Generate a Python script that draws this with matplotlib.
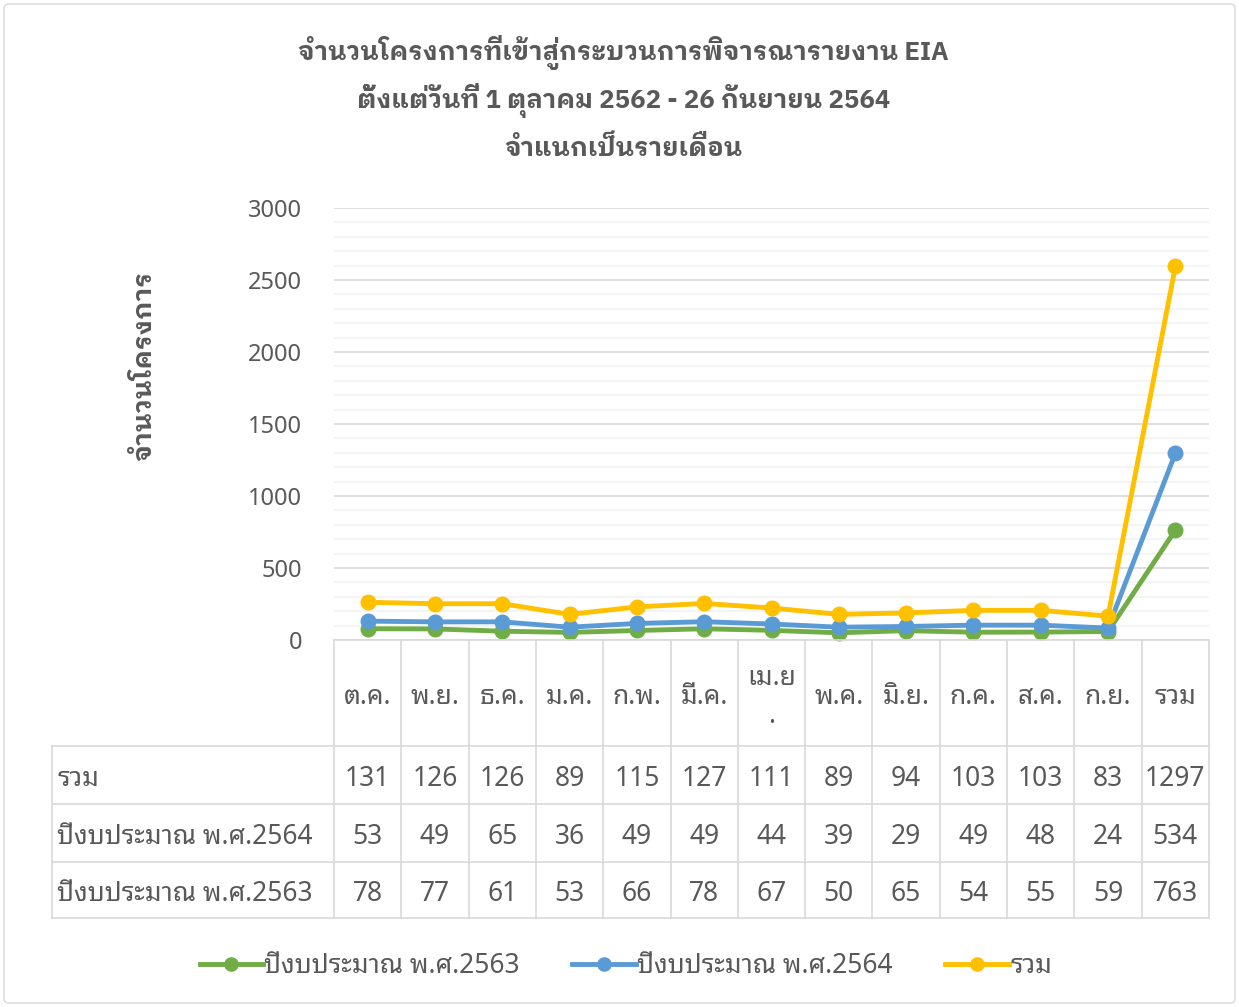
import numpy as np
import matplotlib
matplotlib.use("Agg")
import matplotlib.pyplot as plt
from matplotlib.patches import FancyBboxPatch
from matplotlib.lines import Line2D
import matplotlib.transforms as mtransforms

plt.rcParams['font.family'] = ['Noto Sans Thai Looped', 'Noto Sans Thai', 'DejaVu Sans']
bold_fam = ['IBM Plex Sans Thai Looped', 'Sarabun', 'DejaVu Sans']

months = ["ต.ค.", "พ.ย.", "ธ.ค.", "ม.ค.", "ก.พ.", "มี.ค.", "เม.ย\n.", "พ.ค.",
          "มิ.ย.", "ก.ค.", "ส.ค.", "ก.ย.", "รวม"]
fy2563 = [78, 77, 61, 53, 66, 78, 67, 50, 65, 54, 55, 59, 763]
fy2564 = [53, 49, 65, 36, 49, 49, 44, 39, 29, 49, 48, 24, 534]
total = [131, 126, 126, 89, 115, 127, 111, 89, 94, 103, 103, 83, 1297]

names = ["ปีงบประมาณ พ.ศ.2563", "ปีงบประมาณ พ.ศ.2564", "รวม"]
colors = ["#70AD47", "#5B9BD5", "#FFC000"]

title_lines = ["จำนวนโครงการที่เข้าสู่กระบวนการพิจารณารายงาน EIA",
               "ตั้งแต่วันที่ 1 ตุลาคม 2562 - 26 กันยายน 2564",
               "จำแนกเป็นรายเดือน"]

text_c = "#595959"
grid_c = "#D9D9D9"

W, H = 1239, 1007
fig = plt.figure(figsize=(W / 100, H / 100), dpi=100)

# outer chart border
fig.patches.append(FancyBboxPatch((4 / W, 4 / H), 1 - 8 / W, 1 - 8 / H,
                                  boxstyle="round,pad=0,rounding_size=0.004",
                                  transform=fig.transFigure, fc="white",
                                  ec=grid_c, lw=1.0, zorder=-5))

ax = fig.add_axes([334 / W, 1 - 640 / H, 875 / W, 432 / H])
ax.set_facecolor("none")

# stacked line chart
series = np.cumsum(np.array([fy2563, fy2564, total]), axis=0)
x = np.arange(len(months))
for s, c in zip(series, colors):
    ax.plot(x, s, color=c, lw=3.5, marker="o", ms=10.5, solid_capstyle="round",
            clip_on=False)

ax.set_xlim(-0.5, len(months) - 0.5)
ax.set_ylim(0, 3000)
ax.set_yticks(np.arange(0, 3001, 500))
ax.set_yticks(np.arange(0, 3001, 100), minor=True)
ax.grid(axis="y", which="major", color=grid_c, lw=1.2)
ax.grid(axis="y", which="minor", color="#F2F2F2", lw=1.2)
ax.set_axisbelow(True)
ax.set_xticks([])
ax.tick_params(axis="y", which="both", length=0, pad=23, labelsize=17,
               labelcolor=text_c)
for sp in ax.spines.values():
    sp.set_visible(False)

ax.set_ylabel("จำนวนโครงการ", fontsize=19, fontweight="bold", color=text_c,
              family=bold_fam, labelpad=0)
ax.yaxis.set_label_coords(-0.203, 0.635)

for k, line in enumerate(title_lines):
    fig.text(0.503, 1 - (52 + 48 * k) / H, line, ha="center", va="center",
             fontsize=18.5, fontweight="bold", color=text_c, family=bold_fam)

# data table below the axis
tr = mtransforms.blended_transform_factory(ax.transData, ax.transAxes)
y_head = -0.2454
row_edges = [y_head, -0.3796, -0.5139, -0.6435]
left = -0.3223
tbl_kw = dict(color=grid_c, lw=1.2, clip_on=False)
for i in range(len(months) + 1):
    ax.plot([i - 0.5, i - 0.5], [0, row_edges[-1]], transform=tr, **tbl_kw)
for yy in row_edges:
    ax.plot([left, 1], [yy, yy], transform=ax.transAxes, **tbl_kw)
ax.plot([0, 1], [0, 0], transform=ax.transAxes, **tbl_kw)
ax.plot([left, left], [y_head, row_edges[-1]], transform=ax.transAxes, **tbl_kw)

for i, m in enumerate(months):
    ax.text(i, -0.132, m, transform=tr, ha="center", va="center", fontsize=19,
            color=text_c, linespacing=1.5)

rows = [("รวม", total), (names[1], fy2564), (names[0], fy2563)]
for r, (lab, vals) in enumerate(rows):
    yc = (row_edges[r] + row_edges[r + 1]) / 2 - 0.01
    ax.text(left + 0.006, yc, lab, transform=ax.transAxes, ha="left",
            va="center", fontsize=19, color=text_c)
    for i, v in enumerate(vals):
        ax.text(i, yc, str(v), transform=tr, ha="center", va="center",
                fontsize=19, color=text_c)

handles = [Line2D([], [], color=c, lw=3.5, marker="o", ms=9.5) for c in colors]
fig.legend(handles, names, loc="center", bbox_to_anchor=(0.505, 1 - 966 / H),
           ncol=3, frameon=False, fontsize=19, handlelength=2.4,
           handletextpad=0.05, columnspacing=2.0, labelcolor=text_c)

fig.savefig("out.png", dpi=100)
